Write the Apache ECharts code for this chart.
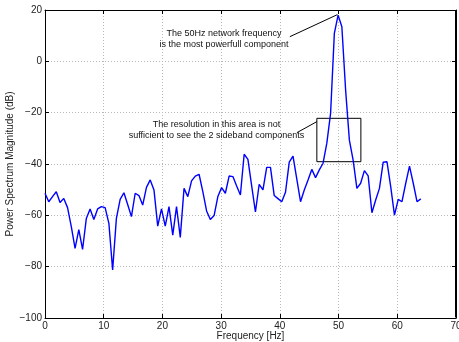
<!DOCTYPE html>
<html>
<head>
<meta charset="utf-8">
<script src="https://cdn.jsdelivr.net/npm/echarts@6/dist/echarts.min.js"></script>
<style>
  html, body { margin: 0; padding: 0; background: #fff; }
  #chart { width: 459px; height: 342px; }
</style>
</head>
<body>
<div id="chart"></div>
<script>
// frequency resolution of the spectrum (fs = 128 Hz, 200 point FFT)
const freqStep = 0.64
// power spectrum magnitude in dB, one value per bin
const magnitude = [
  -51.4, -54.7, -52.7, -50.8, -55.0, -53.4, -57.0, -64.4, -72.9, -65.6,
  -73.3, -61.2, -57.5, -61.6, -57.5, -56.6, -57.0, -63.1, -81.3, -61.2,
  -53.8, -51.2, -55.8, -60.5, -51.4, -52.3, -56.0, -49.1, -46.2, -50.1,
  -64.2, -57.5, -64.2, -56.6, -67.7, -56.6, -68.6, -49.5, -52.7, -46.6,
  -44.7, -44.0, -50.8, -58.3, -61.6, -60.1, -52.7, -49.2, -51.4, -44.7,
  -44.9, -48.6, -52.1, -36.2, -38.2, -48.5, -58.7, -47.9, -50.1, -41.3,
  -41.3, -52.3, -53.5, -54.7, -51.0, -39.3, -36.9, -45.8, -54.7, -50.1,
  -46.2, -42.1, -45.3, -42.3, -39.7, -31.9, -20.3, 10.9, 18.0, 13.5,
  -11.2, -30.7, -38.5, -49.5, -47.5, -42.6, -44.6, -59.0, -54.0, -49.5,
  -39.3, -39.1, -48.8, -59.9, -53.8, -54.7, -47.5, -40.8, -47.5, -54.7,
  -53.6
]
const xTicks = [0, 70, 10]      // min, max, interval
const yTicks = [-100, 20, 20]

const freqs = magnitude.map((v, i) => +(i * freqStep).toFixed(2))
const points = freqs.map((f, i) => [f, magnitude[i]])

// annotations, in data coordinates
const note1 = ['The 50Hz network frequency', 'is the most powerfull component']
const note1At = [30.5, 8.8]
const arrow1 = [[41.7, 9.6], [49.8, 18.2]]
const note2 = ['The resolution in this area is not', 'sufficient to see the 2 sideband components']
const note2At = [29.2, -26.8]
const arrow2 = [[42.9, -27.8], [46.3, -23.5]]
const box = [[46.3, -22.2], [53.8, -39.1]]

const font = 'Liberation Sans, Arial, Helvetica, sans-serif'
const chart = echarts.init(document.getElementById('chart'))

const minusFmt = v => String(v).replace('-', '\u2212')

const axisBase = {
  show: true,
  axisLine: { show: true, onZero: false, lineStyle: { color: '#000', width: 1 } },
  axisTick: { show: true, inside: true, length: 4, lineStyle: { color: '#000' } }
}

const option = {
  animation: false,
  backgroundColor: '#fff',
  textStyle: { fontFamily: font },
  grid: {
    left: 45, right: 3, top: 10, bottom: 24,
    outerBoundsMode: 'none', containLabel: false
  },
  xAxis: [
    Object.assign({}, axisBase, {
      type: 'value', min: xTicks[0], max: xTicks[1], interval: xTicks[2],
      name: 'Frequency [Hz]', nameLocation: 'middle', nameGap: 13, nameMoveOverlap: false,
      nameTextStyle: { fontSize: 10, color: '#222', fontFamily: font },
      axisLabel: { fontSize: 10, color: '#222', margin: 3, fontFamily: font },
      splitLine: { show: true, lineStyle: { color: '#b8b8b8', type: [1, 2], width: 1 } }
    }),
    Object.assign({}, axisBase, {
      type: 'value', position: 'top', min: xTicks[0], max: xTicks[1], interval: xTicks[2],
      axisLabel: { show: false }, splitLine: { show: false }
    })
  ],
  yAxis: [
    Object.assign({}, axisBase, {
      type: 'value', min: yTicks[0], max: yTicks[1], interval: yTicks[2],
      name: 'Power Spectrum Magnitude (dB)', nameLocation: 'middle', nameGap: 30, nameMoveOverlap: false,
      nameTextStyle: { fontSize: 10, color: '#222', fontFamily: font },
      axisLabel: { fontSize: 10, color: '#222', margin: 3, fontFamily: font, formatter: minusFmt },
      splitLine: { show: true, lineStyle: { color: '#b8b8b8', type: [1, 2], width: 1 } }
    }),
    Object.assign({}, axisBase, {
      type: 'value', position: 'right', min: yTicks[0], max: yTicks[1], interval: yTicks[2],
      axisLabel: { show: false }, splitLine: { show: false }
    })
  ],
  series: [
    {
      type: 'line',
      data: points,
      showSymbol: false,
      symbol: 'none',
      lineStyle: { color: '#0000ff', width: 1.4 },
      itemStyle: { color: '#0000ff' },
      markLine: {
        silent: true,
        symbol: ['none', 'arrow'],
        symbolSize: [0, 7],
        label: { show: false },
        lineStyle: { color: '#000', width: 1, type: 'solid' },
        data: [
          [{ coord: arrow1[0] }, { coord: arrow1[1] }],
          [{ coord: arrow2[0] }, { coord: arrow2[1] }]
        ]
      },
      markArea: {
        silent: true,
        itemStyle: { color: 'rgba(0,0,0,0)', borderColor: '#000', borderWidth: 1 },
        data: [[{ coord: box[0] }, { coord: box[1] }]]
      },
      markPoint: {
        silent: true,
        symbol: 'circle',
        symbolSize: 0,
        label: {
          show: true, position: 'inside', color: '#111', fontSize: 9,
          lineHeight: 11, align: 'center', fontFamily: font
        },
        data: [
          { coord: note1At, label: { formatter: note1.join('\n') } },
          { coord: note2At, label: { formatter: note2.join('\n') } }
        ]
      }
    }
  ]
}

chart.setOption(option)

// axes box: top and right edges, placed from the axis extents
const tl = chart.convertToPixel({ gridIndex: 0 }, [xTicks[0], yTicks[1]])
const br = chart.convertToPixel({ gridIndex: 0 }, [xTicks[1], yTicks[0]])
chart.setOption({
  graphic: [
    {
      type: 'polyline', z: 100, silent: true,
      shape: { points: [[Math.round(tl[0]) + 0.5, Math.round(tl[1]) + 0.5], [Math.round(br[0]) - 0.5, Math.round(tl[1]) + 0.5], [Math.round(br[0]) - 0.5, Math.round(br[1]) - 0.5]] },
      style: { stroke: '#000', lineWidth: 1, fill: null }
    }
  ]
})
</script>
</body>
</html>
